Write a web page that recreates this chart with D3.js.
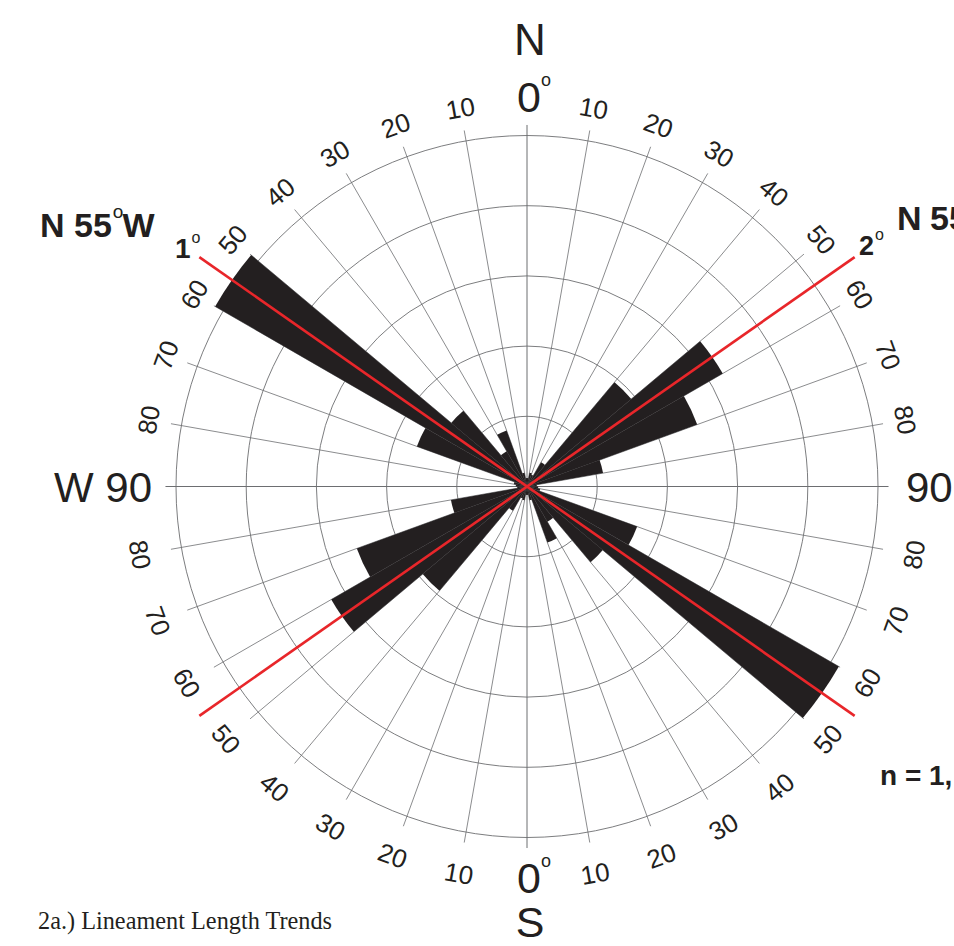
<!DOCTYPE html>
<html><head><meta charset="utf-8">
<script src="https://cdn.jsdelivr.net/npm/d3@7"></script>
<style>body{margin:0;background:#fff}svg{display:block}</style>
</head><body>
<svg id="chart" width="954" height="946"></svg>
<script>
// ---- data ----
const binStarts = [0,10,20,30,40,50,60,70,80,90,100,110,120,130,140,150,160,170];
const binValues = [1.2,2.0,1.8,4.0,19.4,32.2,25.8,11.0,1.4,1.6,1.9,16.7,51.3,14.1,5.8,8.5,2.0,1.2];
const ringValues = [10,20,30,40,50];
const spokeAngles = d3.range(0,360,10);
const trendAngles = [-55,55];
const trendLabels = ["1","2"];
const titleText = "2a.) Lineament Length Trends";

// ---- layout ----
const svg = d3.select("#chart");
const cx = 527, cy = 486.5;
const r = d3.scaleLinear().domain([0,50]).range([0,351]);
const ink = "#231f20", grid = "#6d6e71";
const g = svg.append("g").attr("transform",`translate(${cx},${cy})`);
const rad = d => d*Math.PI/180;
const px = (a,rr) => rr*Math.sin(rad(a));
const py = (a,rr) => -rr*Math.cos(rad(a));

// rings
g.selectAll("circle.ring").data(ringValues).join("circle")
  .attr("class","ring").attr("r",d=>r(d)).attr("fill","none")
  .attr("stroke",grid).attr("stroke-width",0.9);

// spokes
const spokeEnd = r(51.5);
g.selectAll("line.spoke").data(spokeAngles).join("line")
  .attr("class","spoke")
  .attr("x1",0).attr("y1",0)
  .attr("x2",d=>px(d,spokeEnd)).attr("y2",d=>py(d,spokeEnd))
  .attr("stroke",grid).attr("stroke-width",d=>d%90===0?1:0.8);

// petals (bidirectional)
const petals = [];
binStarts.forEach((s,i)=>{
  petals.push({a0:s,a1:s+10,v:binValues[i]});
  petals.push({a0:s+180,a1:s+190,v:binValues[i]});
});
const arc = d3.arc().innerRadius(0)
  .outerRadius(d=>r(d.v))
  .startAngle(d=>rad(d.a0)).endAngle(d=>rad(d.a1));
g.selectAll("path.petal").data(petals).join("path")
  .attr("class","petal").attr("d",arc).attr("fill",ink);

// trend lines
const trendLen = 400;
g.selectAll("line.trend").data(trendAngles).join("line")
  .attr("class","trend")
  .attr("x1",d=>px(d,trendLen)).attr("y1",d=>py(d,trendLen))
  .attr("x2",d=>px(d+180,trendLen)).attr("y2",d=>py(d+180,trendLen))
  .attr("stroke","#e8262a").attr("stroke-width",2.6);

// angle labels
const labR = 388.5;
const lab = spokeAngles.filter(a=>a%90!==0).map(a=>{
  const q = a%180; const val = q<=90 ? q : 180-q;
  let rot = (a<90||a>270) ? a : a-180;
  if(rot>180) rot -= 360;
  return {a, text:String(val), rot};
});
g.selectAll("text.alab").data(lab).join("text")
  .attr("class","alab")
  .attr("transform",d=>`translate(${px(d.a,labR)},${py(d.a,labR)}) rotate(${d.rot}) translate(0,4.5)`)
  .attr("text-anchor","middle").attr("dominant-baseline","central")
  .attr("font-family","'Liberation Sans', Arial, sans-serif")
  .attr("font-size",26).attr("fill",ink).text(d=>d.text);

// big labels
function txt(x,y,s,size,anchor,weight){
  return svg.append("text").attr("x",x).attr("y",y).text(s)
    .attr("font-family","'Liberation Sans', Arial, sans-serif").attr("fill",ink)
    .attr("font-size",size).attr("text-anchor",anchor||"start")
    .attr("font-weight",weight||"normal");
}
txt(530,55,"N",44,"middle");
txt(529,112,"0",43,"middle");
txt(546,86,"o",18,"middle");
txt(530,937,"S",43,"middle");
txt(529,893,"0",43,"middle");
txt(546,867,"o",18,"middle");
txt(152,502,"W 90",42,"end");
txt(906,502,"90",42,"start");

// bold annotations
function deg(x,y,main,size,supSize,after,gapX){
  const t = txt(x,y,"",size,"start","bold");
  if(gapX){
    const parts = main.split(" ");
    t.append("tspan").text(parts[0]);
    t.append("tspan").attr("x",gapX).text(parts[1]);
  } else t.append("tspan").text(main);
  t.append("tspan").attr("font-size",supSize).attr("dy",-size*0.55).attr("dx",1).attr("font-weight","normal").text("o");
  if(after) t.append("tspan").attr("dy",size*0.55).attr("dx",-1).text(after);
  return t;
}
deg(40,237,"N 55",34,19,"W");
deg(897,230,"N 55",34,19,"E",930);
deg(175,258,trendLabels[0],28,16);
deg(859,255,trendLabels[1],27,16);
txt(880,785,"n = 1,",28,"start","bold");

// title
svg.append("text").attr("x",38).attr("y",929)
  .attr("font-family","'Liberation Serif','Times New Roman',serif")
  .attr("font-size",26).attr("fill",ink)
  .attr("textLength",294).attr("lengthAdjust","spacingAndGlyphs")
  .text(titleText);
</script>
</body></html>
